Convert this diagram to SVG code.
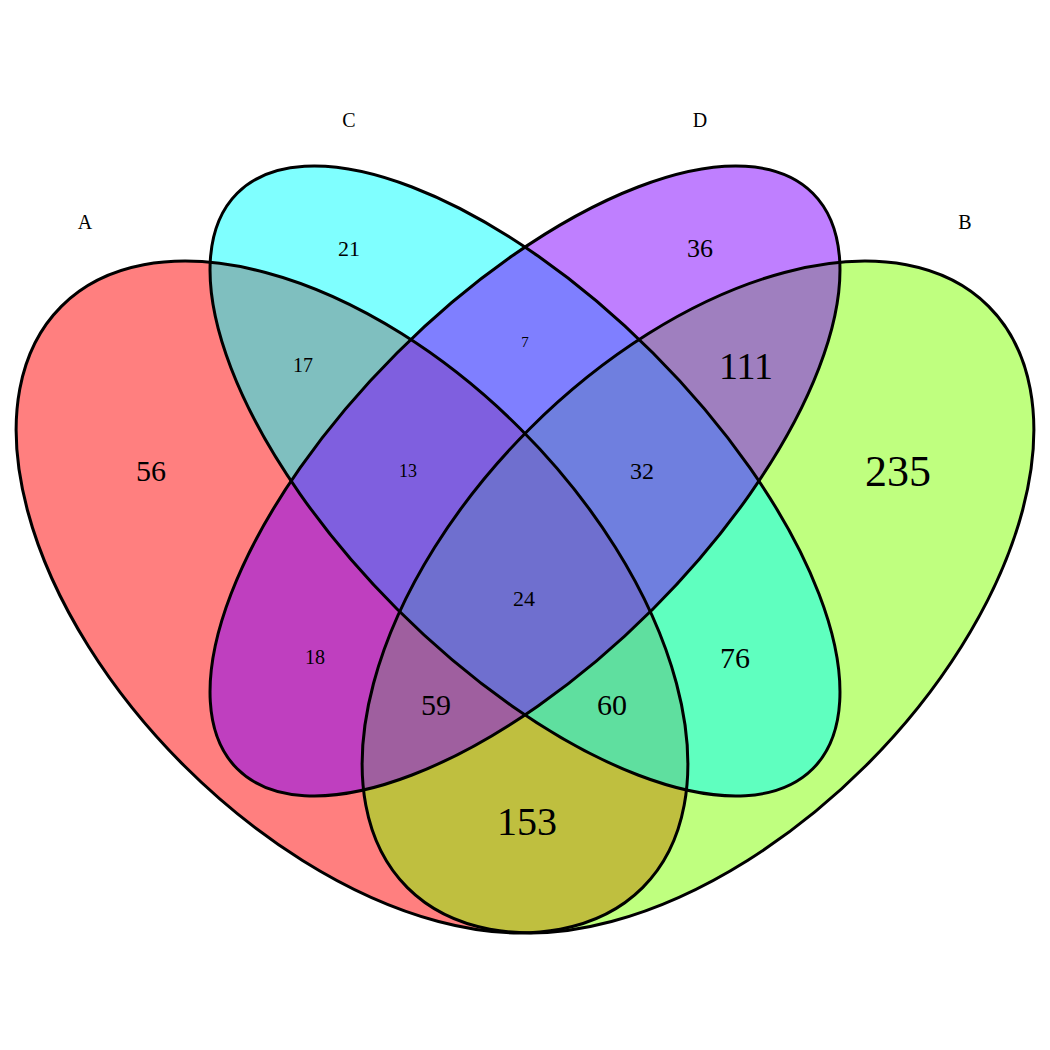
<svg xmlns="http://www.w3.org/2000/svg" width="1050" height="1050" viewBox="0 0 1050 1050">
<style>
.f{fill-opacity:0.5;stroke:none}
.s{fill:none;stroke:#000;stroke-width:3}
text{font-family:"Liberation Serif",serif;text-anchor:middle;fill:#000}
</style>
<rect width="1050" height="1050" fill="#fff"/>
<g id="A"><ellipse class="f" fill="#FF0000" cx="352" cy="597" rx="411" ry="238" transform="rotate(45 352 597)"/></g>
<g id="B"><ellipse class="f" fill="#7FFF00" cx="698" cy="597" rx="411" ry="238" transform="rotate(-45 698 597)"/></g>
<g id="C"><ellipse class="f" fill="#00FFFF" cx="525" cy="481" rx="407" ry="181" transform="rotate(45 525 481)"/></g>
<g id="D"><ellipse class="f" fill="#7F00FF" cx="525" cy="481" rx="407" ry="181" transform="rotate(-45 525 481)"/></g>
<g id="outlines">
<ellipse class="s" cx="352" cy="597" rx="411" ry="238" transform="rotate(45 352 597)"/>
<ellipse class="s" cx="698" cy="597" rx="411" ry="238" transform="rotate(-45 698 597)"/>
<ellipse class="s" cx="525" cy="481" rx="407" ry="181" transform="rotate(45 525 481)"/>
<ellipse class="s" cx="525" cy="481" rx="407" ry="181" transform="rotate(-45 525 481)"/>
</g>
<g id="labels" font-size="20">
<text x="85" y="229">A</text><text x="349" y="127">C</text><text x="700" y="127">D</text><text x="965" y="229">B</text>
</g>
<g id="counts">
<text x="151" y="481" font-size="30">56</text>
<text x="349" y="256" font-size="22">21</text>
<text x="700" y="257" font-size="26">36</text>
<text x="898" y="486" font-size="44">235</text>
<text x="303" y="372" font-size="20">17</text>
<text x="525" y="347" font-size="15">7</text>
<text x="746" y="379" font-size="38">111</text>
<text x="408" y="477" font-size="18">13</text>
<text x="642" y="479" font-size="24">32</text>
<text x="524" y="606" font-size="22">24</text>
<text x="315" y="664" font-size="20">18</text>
<text x="735" y="668" font-size="30">76</text>
<text x="436" y="715" font-size="30">59</text>
<text x="612" y="715" font-size="30">60</text>
<text x="527" y="835" font-size="40">153</text>
</g>
</svg>
